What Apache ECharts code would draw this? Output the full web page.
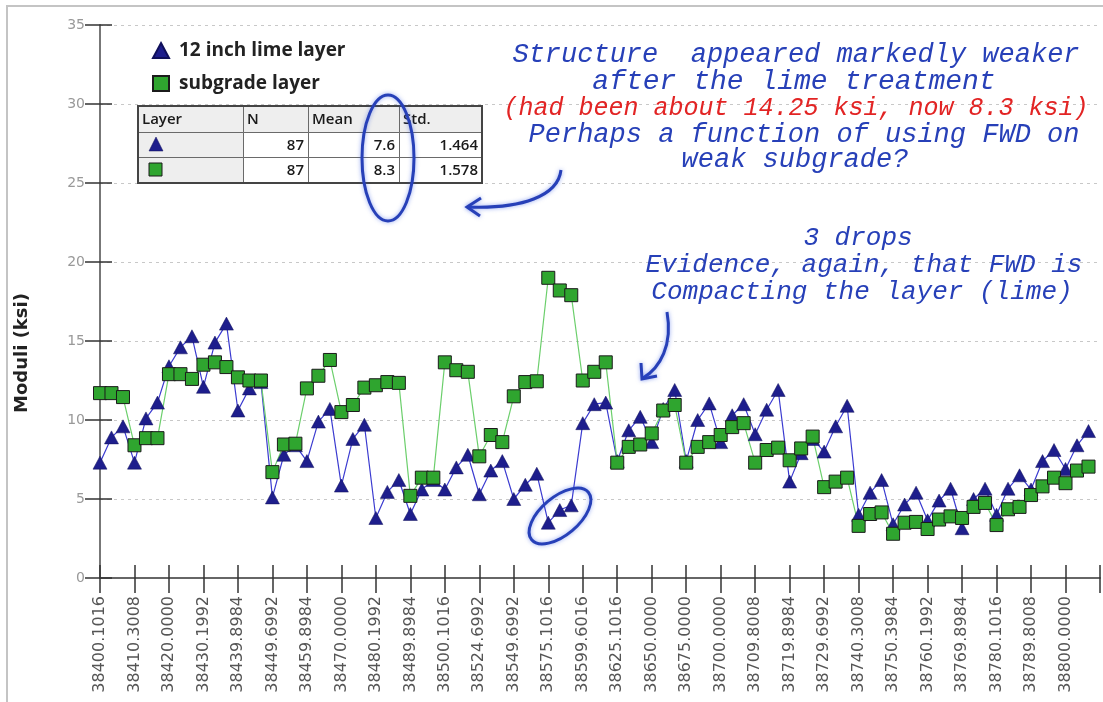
<!DOCTYPE html>
<html><head><meta charset="utf-8">
<script src="https://cdn.jsdelivr.net/npm/echarts@6/dist/echarts.min.js"></script>
<style>html,body{margin:0;padding:0;background:#fff}#c{width:1103px;height:702px}</style>
</head><body><div id="c"></div>
<script>
// ---- data ----
const stationLabels = ['38400.1016','38410.3008','38420.0000','38430.1992','38439.8984','38449.6992','38459.8984','38470.0000','38480.1992','38489.8984','38500.1016','38524.6992','38549.6992','38575.1016','38599.6016','38625.1016','38650.0000','38675.0000','38700.0000','38709.8008','38719.8984','38729.6992','38740.3008','38750.3984','38760.1992','38769.8984','38780.1016','38789.8008','38800.0000'];
const seriesNames = ['12 inch lime layer', 'subgrade layer'];
const limeLayer = [7.3,8.9,9.6,7.3,10.1,11.1,13.4,14.6,15.3,12.1,
  14.9,16.1,10.6,12.0,12.4,5.1,7.8,8.4,7.4,9.9,
  10.7,5.85,8.8,9.7,3.8,5.45,6.2,4.05,5.6,6.2,
  5.6,7.0,7.8,5.3,6.8,7.4,5.0,5.9,6.6,3.5,
  4.3,4.6,9.8,11.0,11.1,7.4,9.35,10.2,8.6,10.7,
  11.9,7.4,10.0,11.05,8.6,10.3,11.0,9.1,10.65,11.9,
  6.1,7.9,8.8,8.0,9.6,10.9,4.0,5.4,6.2,3.4,
  4.65,5.4,3.65,4.9,5.65,3.15,5.0,5.65,4.0,5.65,
  6.5,5.6,7.4,8.1,6.9,8.4,9.3];
const subgradeLayer = [11.7,11.7,11.45,8.4,8.85,8.85,12.9,12.9,12.6,13.5,
  13.65,13.35,12.7,12.5,12.5,6.7,8.45,8.5,12.0,12.8,
  13.8,10.5,10.95,12.05,12.2,12.4,12.35,5.2,6.35,6.35,
  13.65,13.15,13.05,7.7,9.05,8.6,11.5,12.4,12.45,19.0,
  18.2,17.9,12.5,13.05,13.65,7.3,8.3,8.45,9.15,10.6,
  10.95,7.3,8.3,8.6,9.05,9.55,9.8,7.3,8.1,8.25,
  7.45,8.2,8.95,5.75,6.1,6.35,3.3,4.05,4.15,2.8,
  3.5,3.55,3.1,3.7,3.9,3.8,4.5,4.75,3.35,4.35,
  4.5,5.25,5.8,6.35,6.0,6.8,7.05];
const yMin = 0, yMax = 35, yStep = 5;
const labelStep = 3;
const tableHeaders = ['Layer', 'N', 'Mean', 'Std.'];
const tableN = ['87', '87'];
const tableMean = ['7.6', '8.3'];
const tableStd = ['1.464', '1.578'];
const yAxisTitle = 'Moduli (ksi)';
const noteLines = [
  'Structure  appeared markedly weaker',
  'after the lime treatment',
  '(had been about 14.25 ksi, now 8.3 ksi)',
  'Perhaps a function of using FWD on',
  'weak subgrade?',
  '3 drops',
  'Evidence, again, that FWD is',
  'Compacting the layer (lime)'
];

// ---- layout / styling ----
const NAVY = '#1e1e8c', GREEN = '#2fa52f', INK = '#2740b8';
const noteLayout = [[796,55,27],[794,82,28],[796,108,25],[804,135,27],[795,160,27],[858,238,26],[864,265,26],[862,292,26]];
const noteColors = [INK, INK, '#e22424', INK, INK, INK, INK, INK];

const graphics = [];
// outer frame
graphics.push({type:'polyline', shape:{points:[[7,702],[7,6],[1103,6]]}, style:{stroke:'#c4c4c4', lineWidth:2, fill:null}, silent:true});
// y axis title
graphics.push({type:'text', x:22, y:353, rotation:Math.PI/2, style:{text:yAxisTitle, x:0, y:0, font:'bold 18px "DejaVu Sans"', fill:'#222', textAlign:'center', textVerticalAlign:'middle'}});
// table
const cols = [138,243,308,399,482], rows = [106,132,157,183];
const rowVals = [tableHeaders, ['', tableN[0], tableMean[0], tableStd[0]], ['', tableN[1], tableMean[1], tableStd[1]]];
for (let r = 0; r < 3; r++) {
  for (let c = 0; c < 4; c++) {
    graphics.push({type:'rect', shape:{x:cols[c]+0.5, y:rows[r]+0.5, width:cols[c+1]-cols[c], height:rows[r+1]-rows[r]},
      style:{fill:(r===0||c===0)?'#eeeeee':'#ffffff', stroke:'#6a6a6a', lineWidth:1}, z:10});
    const txt = rowVals[r][c];
    if (txt) {
      const right = r > 0;
      graphics.push({type:'text', z:11, style:{text:txt, x: right ? cols[c+1]-4 : cols[c]+4, y:(rows[r]+rows[r+1])/2+1,
        textAlign: right ? 'right' : 'left', textVerticalAlign:'middle', font:'600 15px "Open Sans"', fill:'#1a1a1a'}});
    }
  }
}
graphics.push({type:'rect', z:12, shape:{x:cols[0], y:rows[0], width:cols[4]-cols[0], height:rows[3]-rows[0]}, style:{fill:null, stroke:'#444', lineWidth:2}});
graphics.push({type:'polygon', z:12, shape:{points:[[149,151],[156,137],[163,151]]}, style:{fill:NAVY, stroke:'#10105a', lineWidth:0.5}});
graphics.push({type:'rect', z:12, shape:{x:149, y:163, width:13, height:13}, style:{fill:GREEN, stroke:'#1b1b1b', lineWidth:1}});
// annotation text
noteLines.forEach((t, i) => {
  const [x, y, fs] = noteLayout[i];
  graphics.push({type:'text', z:20, style:{text:t, x:x, y:y, textAlign:'center', textVerticalAlign:'middle',
    font:'italic ' + fs + 'px "Liberation Mono"', fill:noteColors[i], shadowBlur:6, shadowColor:'rgba(40,80,230,0.55)'}});
});
// hand-drawn marks
const pen = {stroke:INK, lineWidth:3, fill:null, shadowBlur:4, shadowColor:'rgba(40,80,230,0.5)'};
graphics.push({type:'ellipse', z:21, shape:{cx:388, cy:158, rx:26, ry:63}, style:pen});
graphics.push({type:'ellipse', z:21, x:560, y:516, rotation:40*Math.PI/180, shape:{cx:0, cy:0, rx:37, ry:19}, style:pen});
graphics.push({type:'bezierCurve', z:21, shape:{x1:561, y1:170, cpx1:558, cpy1:196, cpx2:522, cpy2:209, x2:468, y2:207}, style:pen});
graphics.push({type:'polyline', z:21, shape:{points:[[481,198],[467,207],[480,216]]}, style:pen});
graphics.push({type:'bezierCurve', z:21, shape:{x1:667, y1:312, cpx1:673, cpy1:345, cpx2:660, cpy2:368, x2:643, y2:378}, style:pen});
graphics.push({type:'polyline', z:21, shape:{points:[[641,363],[642,379],[657,376]]}, style:pen});

const xBase = {type:'value', min:0, max:stationLabels.length*labelStep, interval:labelStep, gridIndex:0, position:'bottom', splitLine:{show:false}};
const yBase = {type:'value', min:yMin, max:yMax, interval:yStep, gridIndex:0, position:'left'};

const chart = echarts.init(document.getElementById('c'), null, {renderer:'canvas'});
chart.setOption({
  animation:false,
  backgroundColor:'#ffffff',
  grid:{left:100, right:3, top:25, bottom:124, containLabel:false, outerBoundsMode:'none'},
  legend:{orient:'vertical', left:147, top:36, itemWidth:16, itemHeight:15, itemGap:14, selectedMode:false,
    formatter:'{t|{name}}',
    textStyle:{fontFamily:'Open Sans', fontWeight:'bold', fontSize:19, color:'#222',
      rich:{t:{fontFamily:'Open Sans', fontWeight:'bold', fontSize:19, color:'#222', padding:[0,0,0,5]}}},
    data:[{name:seriesNames[0], icon:'triangle'}, {name:seriesNames[1], icon:'rect'}]},
  xAxis:[
    Object.assign({}, xBase, {
      axisLine:{show:true, onZero:false, lineStyle:{color:'#666', width:2}},
      axisTick:{show:true, inside:false, length:15, lineStyle:{color:'#333', width:1.5}},
      axisLabel:{show:true, rotate:90, margin:18, fontSize:16, fontFamily:'DejaVu Sans', color:'#555',
        formatter:v => { const k = Math.round(v/labelStep); return stationLabels[k] !== undefined ? stationLabels[k] : ''; }}
    }),
    Object.assign({}, xBase, {
      axisLine:{show:false}, axisLabel:{show:false},
      axisTick:{show:true, inside:true, length:13, lineStyle:{color:'#333', width:1.5}}
    })
  ],
  yAxis:[
    Object.assign({}, yBase, {
      axisLine:{show:true, onZero:false, lineStyle:{color:'#777', width:2}},
      axisTick:{show:true, inside:false, length:15, lineStyle:{color:'#333', width:1.5}},
      axisLabel:{show:true, margin:15, fontSize:14, fontFamily:'DejaVu Sans', color:'#999'},
      splitLine:{show:true, lineStyle:{color:'#c8c8c8', width:1, type:[3,4]}}
    }),
    Object.assign({}, yBase, {
      axisLine:{show:false}, axisLabel:{show:false}, splitLine:{show:false},
      axisTick:{show:true, inside:true, length:12, lineStyle:{color:'#333', width:1.5}}
    })
  ],
  series:[
    {name:seriesNames[0], type:'line', xAxisIndex:0, yAxisIndex:0, data:limeLayer.map((v,i)=>[i,v]),
      symbol:'triangle', symbolSize:[14,13], showAllSymbol:true,
      itemStyle:{color:NAVY, borderColor:'#10105a', borderWidth:0.5},
      lineStyle:{color:'#3b3bd0', width:1.2}, emphasis:{disabled:true}},
    {name:seriesNames[1], type:'line', xAxisIndex:0, yAxisIndex:0, data:subgradeLayer.map((v,i)=>[i,v]),
      symbol:'rect', symbolSize:13, showAllSymbol:true,
      itemStyle:{color:GREEN, borderColor:'#1b1b1b', borderWidth:1},
      lineStyle:{color:'#6ccf6c', width:1.2}, emphasis:{disabled:true}}
  ],
  graphic:graphics
});
</script></body></html>
